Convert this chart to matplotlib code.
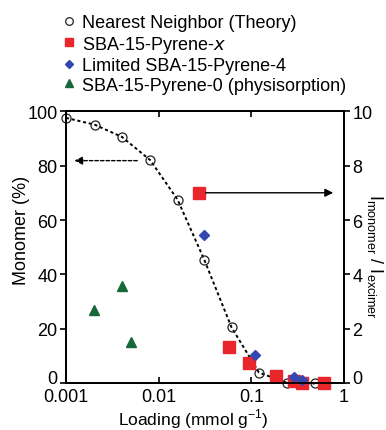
import matplotlib.pyplot as plt
from matplotlib.lines import Line2D
from matplotlib.ticker import FixedLocator, NullLocator
from matplotlib.transforms import ScaledTranslation

plt.rcParams['font.family'] = ['Liberation Sans', 'DejaVu Sans']

# nearest neighbor theory (left axis, monomer %)
nn_load = [0.001, 0.00204, 0.00402, 0.0081, 0.016, 0.031, 0.0612, 0.121, 0.244, 0.485]
nn_mono = [97.5, 95.0, 90.5, 82.0, 67.5, 45.5, 20.6, 4.0, 0.2, 0.0]

# SBA-15-Pyrene-x (right axis, Im/Ie)
px_load = [0.0272, 0.0573, 0.0955, 0.184, 0.29, 0.357, 0.61]
px_ratio = [7.0, 1.32, 0.74, 0.29, 0.08, 0.02, 0.0]

# Limited SBA-15-Pyrene-4 (right axis)
lim_load = [0.031, 0.111, 0.288, 0.357]
lim_ratio = [5.46, 1.04, 0.25, 0.11]

# physisorption (left axis)
phys_load = [0.00202, 0.004, 0.00499]
phys_mono = [26.8, 35.9, 15.1]

red = '#e8262b'
blue = '#3446b0'
green = '#17693a'
fs = 13

fig = plt.figure(figsize=(3.86, 4.31), dpi=100)
ax = fig.add_axes([0.171, 0.108, 0.72, 0.632])
ax2 = ax.twinx()

ax.plot(nn_load, nn_mono, color='black', lw=1.4, ls=(0, (1.6, 1.4)), marker='o',
        ms=6.5, mfc='none', mec='#222222', mew=0.9, clip_on=False, zorder=3)
ax.plot(phys_load, phys_mono, ls='none', marker='^', ms=7.5, color=green, clip_on=False)
ax2.plot(px_load, px_ratio, ls='none', marker='s', ms=8, color=red, clip_on=False)
ax2.plot(lim_load, lim_ratio, ls='none', marker='D', ms=5.5, color=blue, clip_on=False)

ax.set_xscale('log')
ax.set_xlim(0.001, 1)
ax.set_ylim(0, 100)
ax2.set_ylim(0, 10)

ax.xaxis.set_major_locator(FixedLocator([0.001, 0.01, 0.1, 1]))
ax.xaxis.set_minor_locator(NullLocator())
ax.set_xticklabels(['0.001', '0.01', '0.1', '1'])
ax.set_yticks([0, 20, 40, 60, 80, 100])
ax2.set_yticks([0, 2, 4, 6, 8, 10])

ax.tick_params(axis='x', direction='in', top=True, length=4, width=1.2, labelsize=fs, pad=3)
ax.tick_params(axis='y', direction='out', length=4, width=1.2, labelsize=fs, pad=2)
ax2.tick_params(axis='y', direction='out', length=4, width=1.2, labelsize=fs, pad=2)
for a in (ax, ax2):
    for s in a.spines.values():
        s.set_linewidth(1.3)

# the "0" labels sit a bit higher so they clear the x labels
up = ScaledTranslation(0, 5 / 72, fig.dpi_scale_trans)
lab = ax.yaxis.get_major_ticks()[0].label1
lab.set_transform(lab.get_transform() + up)
lab = ax2.yaxis.get_major_ticks()[0].label2
lab.set_transform(lab.get_transform() + up)

# arrows pointing to the axes
ax.annotate('', xy=(0.00115, 81.8), xytext=(0.0063, 81.8),
            arrowprops=dict(arrowstyle='-|>', color='black', lw=1.0, ls=(0, (2.5, 1.5)),
                            mutation_scale=12))
ax2.annotate('', xy=(0.82, 7.0), xytext=(0.03, 7.0),
             arrowprops=dict(arrowstyle='-|>', color='black', lw=1.0, mutation_scale=12))

fig.text(0.055, 0.466, 'Monomer (%)', rotation=90, ha='center', va='center', fontsize=fs)
fig.text(0.5, 0.0, 'Loading (mmol g$^{\\mathregular{-1}}$)', ha='center', va='bottom',
         fontsize=12.5)
fig.text(0.972, 0.404, 'I$_\\mathregular{monomer}$ / I$_\\mathregular{excimer}$', rotation=-90,
         ha='center', va='center', fontsize=fs)

handles = [
    Line2D([], [], ls='none', marker='o', ms=5.5, mfc='none', mec='#222222', mew=0.9),
    Line2D([], [], ls='none', marker='s', ms=6, color=red),
    Line2D([], [], ls='none', marker='D', ms=4.5, color=blue),
    Line2D([], [], ls='none', marker='^', ms=6, color=green),
]
labels = ['Nearest Neighbor (Theory)', 'SBA-15-Pyrene-$\\mathit{x}$',
          'Limited SBA-15-Pyrene-4', 'SBA-15-Pyrene-0 (physisorption)']
fig.legend(handles, labels, loc='upper left', bbox_to_anchor=(0.132, 0.99), frameon=False,
           fontsize=fs, handlelength=0.8, handletextpad=0.3, labelspacing=0.14,
           borderaxespad=0.2)

fig.savefig('out.png', dpi=100)
